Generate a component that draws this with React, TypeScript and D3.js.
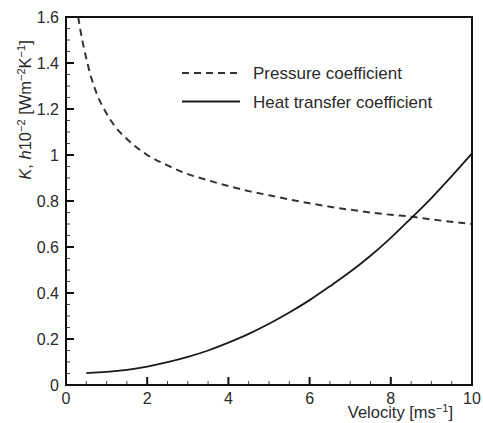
import React from "react";
import * as d3 from "d3";

const velocityHeat = [0.5, 1, 1.5, 2, 2.5, 3, 3.5, 4, 4.5, 5, 5.5, 6, 6.5, 7, 7.5, 8, 8.5, 9, 9.5, 10];
const heatCoeff = [0.052, 0.057, 0.066, 0.08, 0.099, 0.122, 0.15, 0.184, 0.222, 0.266, 0.315, 0.369, 0.429, 0.492, 0.562, 0.64, 0.725, 0.813, 0.908, 1.007];

const velocityPressure = [0.3, 0.4, 0.5, 0.6, 0.75, 1, 1.25, 1.5, 2, 2.5, 3, 3.5, 4, 4.5, 5, 5.5, 6, 7, 8, 8.5, 9, 10];
const pressureCoeff = [1.6, 1.5, 1.42, 1.35, 1.27, 1.18, 1.115, 1.07, 1.0, 0.955, 0.917, 0.89, 0.865, 0.843, 0.825, 0.807, 0.79, 0.762, 0.74, 0.732, 0.72, 0.70];

const xTicks = [0, 2, 4, 6, 8, 10];
const yTicks = [0, 0.2, 0.4, 0.6, 0.8, 1, 1.2, 1.4, 1.6];
const yTickLabels = ["0", "0.2", "0.4", "0.6", "0.8", "1", "1.2", "1.4", "1.6"];

const legendLabels = ["Pressure coefficient", "Heat transfer coefficient"];

const W = 483;
const H = 423;
const M = { left: 66, right: 11, top: 17, bottom: 38 };

export default function App() {
  const x = d3.scaleLinear().domain([0, 10]).range([M.left, W - M.right]);
  const y = d3.scaleLinear().domain([0, 1.6]).range([H - M.bottom, M.top]);

  const line = d3
    .line<[number, number]>()
    .x((d) => x(d[0]))
    .y((d) => y(d[1]))
    .curve(d3.curveMonotoneX);

  const heatPts = velocityHeat.map((v, i) => [v, heatCoeff[i]] as [number, number]);
  const pressPts = velocityPressure.map((v, i) => [v, pressureCoeff[i]] as [number, number]);

  const xMinor = d3.range(0, 10.001, 0.5).filter((v) => Math.abs(v % 2) > 1e-6);
  const yMinor = d3.range(0, 1.6001, 0.05).filter((v) => Math.abs((v * 100) % 20) > 1e-6 && Math.abs((v * 100) % 20 - 20) > 1e-6);

  const font = "'Liberation Sans', Arial, Helvetica, sans-serif";
  const textColor = "#2a2a2a";

  return (
    <svg
      width={W}
      height={H}
      style={{ position: "fixed", left: 0, top: 0, background: "#fff" }}
      fontFamily={font}
    >
      <rect x={0} y={0} width={W} height={H} fill="#fff" />
      <defs>
        <clipPath id="plot">
          <rect x={M.left} y={M.top} width={W - M.left - M.right} height={H - M.top - M.bottom} />
        </clipPath>
      </defs>

      {/* minor ticks */}
      {xMinor.map((v, i) => (
        <line key={"xm" + i} x1={x(v)} x2={x(v)} y1={y(0)} y2={y(0) - 4} stroke="#444" strokeWidth={1} />
      ))}
      {yMinor.map((v, i) => (
        <line key={"ym" + i} x1={x(0)} x2={x(0) + 4} y1={y(v)} y2={y(v)} stroke="#444" strokeWidth={1} />
      ))}
      {/* major ticks */}
      {xTicks.map((v, i) => (
        <line key={"xM" + i} x1={x(v)} x2={x(v)} y1={y(0)} y2={y(0) - 8} stroke="#111" strokeWidth={2} />
      ))}
      {yTicks.map((v, i) => (
        <line key={"yM" + i} x1={x(0)} x2={x(0) + 8} y1={y(v)} y2={y(v)} stroke="#111" strokeWidth={2} />
      ))}

      {/* curves */}
      <g clipPath="url(#plot)">
        <path d={line(pressPts) || ""} fill="none" stroke="#333" strokeWidth={2} strokeDasharray="7,5" />
        <path d={line(heatPts) || ""} fill="none" stroke="#1a1a1a" strokeWidth={1.8} />
      </g>

      {/* frame */}
      <rect
        x={x(0)}
        y={y(1.6)}
        width={x(10) - x(0)}
        height={y(0) - y(1.6)}
        fill="none"
        stroke="#111"
        strokeWidth={2}
      />

      {/* tick labels */}
      {xTicks.map((v, i) => (
        <text key={"xl" + i} x={x(v)} y={404} textAnchor="middle" fontSize={16} fill={textColor}>
          {v}
        </text>
      ))}
      {yTicks.map((v, i) => (
        <text key={"yl" + i} x={59} y={y(v) + 5.5} textAnchor="end" fontSize={16} fill={textColor}>
          {yTickLabels[i]}
        </text>
      ))}

      {/* axis titles */}
      <text x={453} y={418} textAnchor="end" fontSize={16.5} fill={textColor}>
        Velocity [ms
        <tspan dy={-6} fontSize={11}>−1</tspan>
        <tspan dy={6}>]</tspan>
      </text>
      <text transform="translate(31,110) rotate(-90)" textAnchor="middle" fontSize={16.5} fill={textColor}>
        <tspan fontStyle="italic">K</tspan>
        {", "}
        <tspan fontStyle="italic">h</tspan>
        10
        <tspan dy={-6} fontSize={11}>−2</tspan>
        <tspan dy={6}> [Wm</tspan>
        <tspan dy={-6} fontSize={11}>−2</tspan>
        <tspan dy={6}>K</tspan>
        <tspan dy={-6} fontSize={11}>−1</tspan>
        <tspan dy={6}>]</tspan>
      </text>

      {/* legend */}
      <line x1={182} x2={240} y1={73} y2={73} stroke="#333" strokeWidth={2} strokeDasharray="7,5" />
      <text x={253} y={79} fontSize={17} fill={textColor}>
        {legendLabels[0]}
      </text>
      <line x1={182} x2={240} y1={101.5} y2={101.5} stroke="#1a1a1a" strokeWidth={1.8} />
      <text x={253} y={107.5} fontSize={17} fill={textColor}>
        {legendLabels[1]}
      </text>
    </svg>
  );
}
